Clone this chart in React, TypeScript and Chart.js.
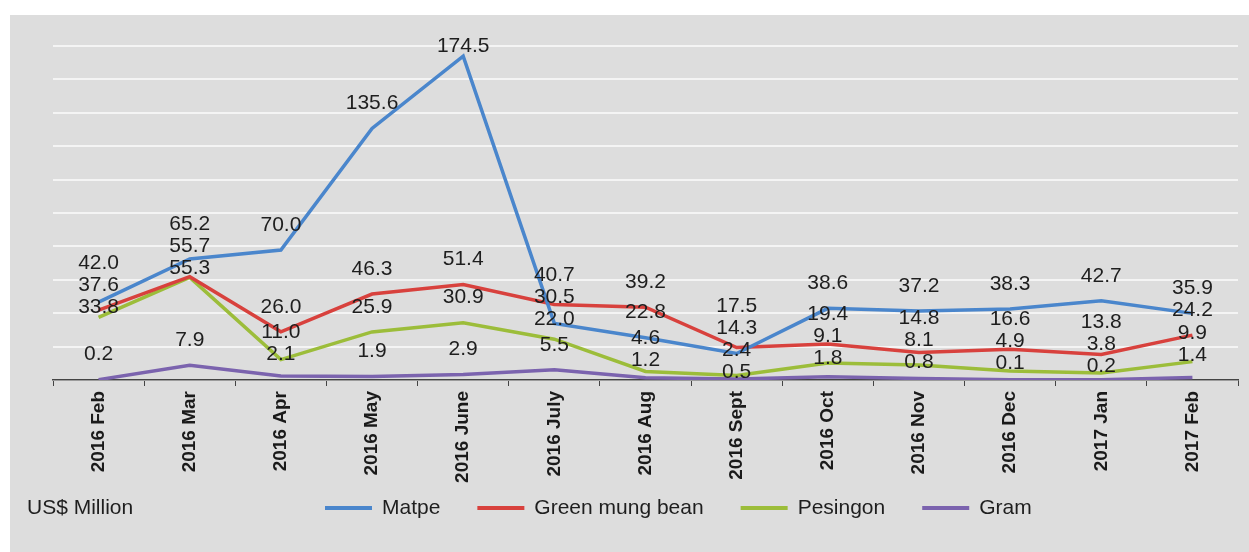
import React, { useEffect, useRef } from "react";
import { Chart, registerables } from "chart.js";

Chart.register(...registerables);

const categories = [
  "2016 Feb", "2016 Mar", "2016 Apr", "2016 May", "2016 June", "2016 July",
  "2016 Aug", "2016 Sept", "2016 Oct", "2016 Nov", "2016 Dec", "2017 Jan", "2017 Feb",
];
const matpe = [42.0, 65.2, 70.0, 135.6, 174.5, 30.5, 22.8, 14.3, 38.6, 37.2, 38.3, 42.7, 35.9];
const greenMungBean = [37.6, 55.7, 26.0, 46.3, 51.4, 40.7, 39.2, 17.5, 19.4, 14.8, 16.6, 13.8, 24.2];
const pesingon = [33.8, 55.3, 11.0, 25.9, 30.9, 22.0, 4.6, 2.4, 9.1, 8.1, 4.9, 3.8, 9.9];
const gram = [0.2, 7.9, 2.1, 1.9, 2.9, 5.5, 1.2, 0.5, 1.8, 0.8, 0.1, 0.2, 1.4];
const seriesNames = ["Matpe", "Green mung bean", "Pesingon", "Gram"];
const unitLabel = "US$ Million";

const COLORS = ["#4a86cc", "#d8413d", "#9cbd3a", "#7b63ae"];
const FONT = '"Liberation Sans", Arial, Helvetica, sans-serif';

const W = 1249;
const H = 552;

const dataLabels = {
  id: "dataLabels",
  afterDatasetsDraw(chart: any) {
    const ctx = chart.ctx;
    const top = chart.chartArea.top;
    const GAP = 22;
    ctx.save();
    ctx.font = `21px ${FONT}`;
    ctx.fillStyle = "#1e1e1e";
    ctx.textAlign = "center";
    ctx.textBaseline = "middle";
    const n = chart.data.labels.length;
    for (let j = 0; j < n; j++) {
      const items: { x: number; y: number; text: string; v: number }[] = [];
      chart.data.datasets.forEach((ds: any, i: number) => {
        const pt = chart.getDatasetMeta(i).data[j];
        if (!pt) return;
        items.push({ x: pt.x, y: pt.y - 25, text: Number(ds.data[j]).toFixed(1), v: Number(ds.data[j]) });
      });
      items.sort((a, b) => a.y - b.y || b.v - a.v);
      for (let iter = 0; iter < 60; iter++) {
        let moved = false;
        for (let k = 0; k < items.length - 1; k++) {
          const a = items[k];
          const b = items[k + 1];
          const d = b.y - a.y;
          if (d < GAP - 0.01) {
            const push = (GAP - d) / 2;
            a.y -= push;
            b.y += push;
            moved = true;
          }
        }
        if (items.length && items[0].y < top) {
          items[0].y = top;
          for (let k = 1; k < items.length; k++) {
            if (items[k].y - items[k - 1].y < GAP) items[k].y = items[k - 1].y + GAP;
          }
        }
        if (!moved) break;
      }
      items.forEach((it) => ctx.fillText(it.text, it.x, it.y));
    }
    ctx.restore();
  },
};

const customLegend = {
  id: "customLegend",
  afterDraw(chart: any) {
    const ctx = chart.ctx;
    ctx.save();
    ctx.font = `21px ${FONT}`;
    ctx.fillStyle = "#1e1e1e";
    ctx.textBaseline = "middle";
    ctx.textAlign = "left";
    const y = 508;
    ctx.fillText(unitLabel, 27, y);
    let x = 325;
    chart.data.datasets.forEach((ds: any) => {
      ctx.strokeStyle = ds.borderColor;
      ctx.lineWidth = 4;
      ctx.beginPath();
      ctx.moveTo(x, y);
      ctx.lineTo(x + 47, y);
      ctx.stroke();
      x += 57;
      ctx.fillStyle = "#1e1e1e";
      ctx.fillText(ds.label, x, y);
      x += ctx.measureText(ds.label).width + 37;
    });
    ctx.restore();
  },
};

export default function App() {
  const ref = useRef<HTMLCanvasElement | null>(null);

  useEffect(() => {
    if (!ref.current) return;
    const series = [matpe, greenMungBean, pesingon, gram];
    const chart = new Chart(ref.current, {
      type: "line",
      data: {
        labels: categories,
        datasets: series.map((d, i) => ({
          label: seriesNames[i],
          data: d,
          borderColor: COLORS[i],
          backgroundColor: COLORS[i],
          borderWidth: 3.5,
          pointRadius: 0,
          tension: 0,
          fill: false,
        })),
      },
      options: {
        responsive: false,
        animation: false,
        devicePixelRatio: 1,
        layout: { padding: { left: 53, right: 11, top: 46, bottom: 0 }, autoPadding: false },
        plugins: {
          legend: { display: false },
          tooltip: { enabled: false },
          title: { display: false },
        },
        scales: {
          x: {
            type: "category",
            offset: true,
            grid: {
              display: true,
              drawOnChartArea: false,
              drawTicks: true,
              tickLength: 6,
              tickColor: "#444444",
              offset: true,
            },
            border: { display: true, color: "#444444", width: 1.5 },
            ticks: {
              minRotation: 90,
              maxRotation: 90,
              autoSkip: false,
              padding: 5,
              color: "#1a1a1a",
              font: { family: FONT, size: 19, weight: "bold" },
            },
            afterFit: (s: any) => {
              s.height = 172;
            },
          },
          y: {
            min: 0,
            max: 180,
            ticks: { display: false, stepSize: 18 },
            grid: { color: "#f4f4f4", lineWidth: 2, drawTicks: false },
            border: { display: false },
            afterFit: (s: any) => {
              s.width = 0;
            },
          },
        },
      },
      plugins: [dataLabels, customLegend],
    } as any);
    return () => chart.destroy();
  }, []);

  return (
    <div
      style={{
        position: "fixed",
        left: 0,
        top: 0,
        width: W,
        height: H,
        background: "#ffffff",
        overflow: "hidden",
      }}
    >
      <div
        style={{
          position: "absolute",
          left: 10,
          top: 15,
          width: W - 10,
          height: H - 15,
          background: "#dddddd",
        }}
      />
      <canvas
        ref={ref}
        width={W}
        height={H}
        style={{ position: "absolute", left: 0, top: 0, width: W, height: H, display: "block" }}
      />
    </div>
  );
}
